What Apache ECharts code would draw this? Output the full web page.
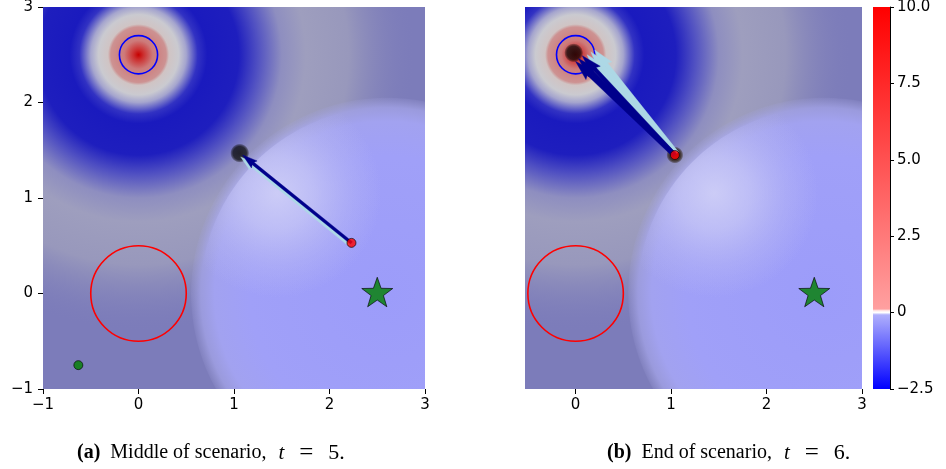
<!DOCTYPE html>
<html><head><meta charset="utf-8">
<script src="https://cdn.jsdelivr.net/npm/echarts@6/dist/echarts.min.js"></script>
<style>html,body{margin:0;padding:0;background:#fff}#c{width:946px;height:469px}</style>
</head><body><div id="c"></div>
<script>
// ---------------- data ----------------
const xTicksA = [-1, 0, 1, 2, 3];
const yTicks = [-1, 0, 1, 2, 3];
const xTicksB = [0, 1, 2, 3];
const xRangeB = [-0.53, 3];
const cbTicks = [-2.5, 0, 2.5, 5, 7.5, 10];
const cbBars = [10, -2.5];            // positive part and negative part of the colour bar

const obstacle = [0, 2.5];
const obstacleRadius = 0.2;
const avoidZone = [0, 0];
const avoidRadius = 0.5;
const goal = [2.5, 0];
const goalRegion = [2.6, 0.0];
const goalRegionRadius = 2.05;
const lightSpot = [1.45, 1.05];
const lightSpotRadius = 1.1;
const obstacleFieldRadius = 2.9;

const startA = [-0.63, -0.75];
const robotA = [2.23, 0.53];
const particlesA = [1.06, 1.47];
const robotB = [1.04, 1.45];
const particlesB = [-0.02, 2.52];

const arrowsLightA = [[2.21, 0.51, 1.07, 1.43]];
const arrowsDarkA = [[2.23, 0.53, 1.09, 1.45]];
const arrowsLightB = [[1.05, 1.46, 0.12, 2.50], [1.05, 1.46, 0.16, 2.53], [1.06, 1.47, 0.20, 2.55]];
const arrowsDarkB = [[1.03, 1.45, 0.00, 2.43], [1.04, 1.45, 0.03, 2.46], [1.04, 1.45, 0.07, 2.49]];

const captionA = ['(a)', 'Middle of scenario,', 't', '=', '5.'];
const captionB = ['(b)', 'End of scenario,', 't', '=', '6.'];

// ---------------- styling helpers ----------------
const FONT = 'DejaVu Sans';
const labelStyle = { color: '#000', fontFamily: FONT, fontSize: 15 };
const fmtMinus = v => (v < 0 ? '\u2212' : '') + Math.abs(v);

// obstacle field radial profile: [radius in data units, colour]
const obstStops = [
  [0.00, 'rgb(198,0,0)'], [0.05, 'rgb(204,45,45)'], [0.15, 'rgb(205,122,122)'],
  [0.29, 'rgb(205,146,146)'], [0.32, 'rgb(208,196,196)'], [0.42, 'rgb(202,202,208)'],
  [0.50, 'rgb(165,165,206)'], [0.62, 'rgb(50,50,195)'], [0.72, 'rgb(26,26,190)'],
  [1.05, 'rgb(30,30,190)'], [1.25, 'rgb(80,80,194)'], [1.50, 'rgb(142,142,192)'],
  [1.75, 'rgb(158,158,190)'], [2.20, 'rgb(152,152,188)'], [2.90, 'rgba(124,124,186,0)']
];

function obstacleFieldItem(params, api) {
  const c = api.coord([api.value(0), api.value(1)]);
  const R = api.size([obstacleFieldRadius, 0])[0];
  return {
    type: 'circle', shape: { cx: c[0], cy: c[1], r: R },
    style: { fill: { type: 'radial', x: 0.5, y: 0.5, r: 0.5,
      colorStops: obstStops.map(s => ({ offset: s[0] / obstacleFieldRadius, color: s[1] })) } }
  };
}

function discIntersection(c1, r1, c2, r2, n) {
  const pts = [];
  for (let i = 0; i < n; i++) {
    const a = 2 * Math.PI * i / n;
    const p = [c1[0] + r1 * Math.cos(a), c1[1] + r1 * Math.sin(a)];
    if (Math.hypot(p[0] - c2[0], p[1] - c2[1]) <= r2) pts.push(p);
    const q = [c2[0] + r2 * Math.cos(a), c2[1] + r2 * Math.sin(a)];
    if (Math.hypot(q[0] - c1[0], q[1] - c1[1]) <= r1) pts.push(q);
  }
  if (!pts.length) return pts;
  let mx = 0, my = 0; pts.forEach(p => { mx += p[0]; my += p[1]; });
  mx /= pts.length; my /= pts.length;
  pts.sort((a, b) => Math.atan2(a[1] - my, a[0] - mx) - Math.atan2(b[1] - my, b[0] - mx));
  return pts;
}

function goalFieldItem(params, api) {
  const c = api.coord([api.value(0), api.value(1)]);
  const r = api.size([goalRegionRadius, 0])[0];
  const b = api.coord(lightSpot);
  const br = api.size([lightSpotRadius, 0])[0];
  const poly = discIntersection(c, r * 0.95, b, br, 240);
  return {
    type: 'group', children: [
      { type: 'circle', shape: { cx: c[0], cy: c[1], r: r },
        style: { fill: { type: 'radial', x: 0.5, y: 0.5, r: 0.5, colorStops: [
          { offset: 0, color: 'rgba(156,156,250,1)' }, { offset: 0.7, color: 'rgba(160,160,248,1)' },
          { offset: 0.88, color: 'rgba(162,162,240,1)' }, { offset: 0.95, color: 'rgba(162,162,230,0.8)' },
          { offset: 1, color: 'rgba(162,162,222,0.15)' } ] } } },
      { type: 'polygon', shape: { points: poly },
        style: { fill: { type: 'radial', x: b[0], y: b[1], r: br, global: true, colorStops: [
          { offset: 0, color: 'rgba(206,206,247,0.9)' }, { offset: 0.35, color: 'rgba(198,198,247,0.62)' },
          { offset: 0.7, color: 'rgba(180,180,246,0.28)' }, { offset: 1, color: 'rgba(170,170,246,0)' } ] },
          shadowBlur: 8, shadowColor: 'rgba(195,195,240,0.7)' } }
    ]
  };
}

function ringItem(radius, color) {
  return function (params, api) {
    const c = api.coord([api.value(0), api.value(1)]);
    const r = api.size([radius, 0])[0];
    return { type: 'circle', shape: { cx: c[0], cy: c[1], r: r },
      style: { fill: 'none', stroke: color, lineWidth: 1.6 } };
  };
}

function arrowItem(w, color) {
  return function (params, api) {
    const p0 = api.coord([api.value(0), api.value(1)]);
    const p1 = api.coord([api.value(2), api.value(3)]);
    const dx = p1[0] - p0[0], dy = p1[1] - p0[1], L = Math.hypot(dx, dy);
    const ux = dx / L, uy = dy / L, nx = -uy, ny = ux;
    const hl = 5 * w, hal = 4.5 * w, hw = 1.5 * w, sw = w / 2;
    const pb = [p1[0] - ux * hal, p1[1] - uy * hal];
    const ph = [p1[0] - ux * hl, p1[1] - uy * hl];
    const pts = [
      [p0[0] + nx * sw, p0[1] + ny * sw], [pb[0] + nx * sw, pb[1] + ny * sw],
      [ph[0] + nx * hw, ph[1] + ny * hw], p1,
      [ph[0] - nx * hw, ph[1] - ny * hw], [pb[0] - nx * sw, pb[1] - ny * sw],
      [p0[0] - nx * sw, p0[1] - ny * sw]
    ];
    return { type: 'polygon', shape: { points: pts }, style: { fill: color, stroke: color, lineWidth: 0.4 } };
  };
}

function starPath() {
  let s = '';
  for (let i = 0; i < 10; i++) {
    const R = i % 2 ? 0.4 : 1, a = -Math.PI / 2 + i * Math.PI / 5;
    s += (i ? 'L' : 'M') + (R * Math.cos(a)).toFixed(4) + ' ' + (R * Math.sin(a)).toFixed(4) + ' ';
  }
  return 'path://' + s + 'Z';
}

const cloud = (rgb) => ({ type: 'radial', x: 0.5, y: 0.5, r: 0.5, colorStops: [
  { offset: 0, color: 'rgba(' + rgb + ',1)' }, { offset: 0.7, color: 'rgba(' + rgb + ',0.92)' },
  { offset: 0.88, color: 'rgba(' + rgb + ',0.5)' }, { offset: 1, color: 'rgba(' + rgb + ',0)' } ] });

function panelSeries(g, robot, particles, arrowsLight, arrowsDark, lightW, darkW, robotCloud) {
  const ax = { xAxisIndex: g, yAxisIndex: g };
  const s = [
    Object.assign({ type: 'custom', name: 'obstacleField', clip: true, z: 1, renderItem: obstacleFieldItem, data: [obstacle] }, ax),
    Object.assign({ type: 'custom', name: 'goalField', clip: true, z: 1, renderItem: goalFieldItem, data: [goalRegion] }, ax),
    Object.assign({ type: 'custom', name: 'avoid', clip: true, z: 2, renderItem: ringItem(avoidRadius, '#ff0000'), data: [avoidZone] }, ax),
    Object.assign({ type: 'custom', name: 'obstacle', clip: true, z: 2, renderItem: ringItem(obstacleRadius, '#0000ff'), data: [obstacle] }, ax),
    Object.assign({ type: 'scatter', name: 'particles', z: 3, symbol: 'circle', symbolSize: 19,
      itemStyle: { color: cloud('8,8,8') }, data: [particles] }, ax)
  ];
  if (robotCloud) s.push(Object.assign({ type: 'scatter', name: 'robotParticles', z: 3, symbolSize: 17,
      itemStyle: { color: cloud('40,25,5') }, data: [robot] }, ax));
  s.push(
    Object.assign({ type: 'custom', name: 'arrowsLight', clip: true, z: 4, renderItem: arrowItem(lightW, '#add8e6'),
      encode: { x: [0, 2], y: [1, 3] }, data: arrowsLight }, ax),
    Object.assign({ type: 'custom', name: 'arrowsDark', clip: true, z: 4, renderItem: arrowItem(darkW, '#00008b'),
      encode: { x: [0, 2], y: [1, 3] }, data: arrowsDark }, ax),
    Object.assign({ type: 'scatter', name: 'start', z: 5, symbolSize: 9,
      itemStyle: { color: '#008000', borderColor: '#000', borderWidth: 0.8 }, data: [startA] }, ax),
    Object.assign({ type: 'scatter', name: 'robot', z: 5, symbolSize: 9,
      itemStyle: { color: '#ff0000', borderColor: '#000', borderWidth: 0.8 }, data: [robot] }, ax),
    Object.assign({ type: 'scatter', name: 'goal', z: 5, symbol: starPath(), symbolSize: [31, 29.5], symbolOffset: [0, -1.5],
      itemStyle: { color: '#008000', borderColor: '#000', borderWidth: 0.8 }, data: [goal] }, ax)
  );
  return s;
}

const bg = 'rgb(124,124,186)';
const tick = { show: true, length: 5, inside: false, lineStyle: { color: '#000', width: 1 } };
const noLine = { show: false, onZero: false };

function caption(x, parts) {
  const serif = 'Liberation Serif';
  return { type: 'text', x: x, y: 453, style: {
    text: '{b|' + parts[0] + '}{s1|}{n|' + parts[1] + '}{s2|}{i|' + parts[2] + '}{s3|}{e|' + parts[3] + '}{s4|}{m|' + parts[4] + '}',
    textAlign: 'left', textVerticalAlign: 'middle', fill: '#000',
    font: '20px "Liberation Serif"',
    rich: {
      b: { fontWeight: 'bold', fontFamily: serif, fontSize: 20 },
      n: { fontFamily: serif, fontSize: 20 },
      i: { fontStyle: 'italic', fontFamily: serif, fontSize: 21 },
      e: { fontFamily: serif, fontSize: 25, width: 22, align: 'center' },
      m: { fontFamily: serif, fontSize: 22 },
      s1: { width: 10 }, s2: { width: 12 }, s3: { width: 11 }, s4: { width: 11 }
    } } };
}

const option = {
  animation: false,
  grid: [
    { left: 43, top: 7, width: 382, height: 382, show: true, backgroundColor: bg, borderWidth: 0, outerBoundsMode: 'none' },
    { left: 525, top: 7, width: 337, height: 382, show: true, backgroundColor: bg, borderWidth: 0, outerBoundsMode: 'none' },
    { left: 873, top: 7, width: 17, height: 382, borderWidth: 0, outerBoundsMode: 'none' }
  ],
  xAxis: [
    { gridIndex: 0, type: 'value', min: xTicksA[0], max: xTicksA[xTicksA.length - 1], interval: xTicksA[1] - xTicksA[0],
      axisLine: noLine, axisTick: tick, splitLine: { show: false },
      axisLabel: Object.assign({ margin: 9, formatter: fmtMinus }, labelStyle) },
    { gridIndex: 1, type: 'value', min: xRangeB[0], max: xRangeB[1],
      axisLine: noLine, axisTick: Object.assign({ customValues: xTicksB }, tick), splitLine: { show: false },
      axisLabel: Object.assign({ margin: 9, customValues: xTicksB, formatter: fmtMinus }, labelStyle) },
    { gridIndex: 2, type: 'category', data: ['cb'], show: false }
  ],
  yAxis: [
    { gridIndex: 0, type: 'value', min: yTicks[0], max: yTicks[yTicks.length - 1], interval: yTicks[1] - yTicks[0],
      axisLine: noLine, axisTick: tick, splitLine: { show: false },
      axisLabel: Object.assign({ margin: 10, formatter: fmtMinus }, labelStyle) },
    { gridIndex: 1, type: 'value', min: yTicks[0], max: yTicks[yTicks.length - 1],
      axisLine: noLine, axisTick: { show: false }, axisLabel: { show: false }, splitLine: { show: false } },
    { gridIndex: 2, type: 'value', position: 'right', min: cbTicks[0], max: cbTicks[cbTicks.length - 1],
      interval: cbTicks[1] - cbTicks[0],
      axisLine: { show: true, onZero: false, lineStyle: { color: '#000', width: 1 } },
      axisTick: { show: true, length: 4, lineStyle: { color: '#000' } }, splitLine: { show: false },
      axisLabel: Object.assign({ margin: 7,
        formatter: v => v === 0 ? '0' : (v < 0 ? '\u2212' : '') + Math.abs(v).toFixed(1) }, labelStyle) }
  ],
  series: [].concat(
    panelSeries(0, robotA, particlesA, arrowsLightA, arrowsDarkA, 3, 3, false),
    panelSeries(1, robotB, particlesB, arrowsLightB, arrowsDarkB, 4, 4, true),
    [
      { type: 'bar', xAxisIndex: 2, yAxisIndex: 2, barWidth: '100%', barGap: '-100%', data: [cbBars[0]],
        itemStyle: { borderWidth: 0, color: { type: 'linear', x: 0, y: 0, x2: 0, y2: 1, colorStops: [
          { offset: 0, color: 'rgb(255,0,0)' }, { offset: 0.988, color: 'rgb(255,160,160)' },
          { offset: 0.994, color: 'rgb(255,236,236)' }, { offset: 1, color: 'rgb(255,255,255)' } ] } } },
      { type: 'bar', xAxisIndex: 2, yAxisIndex: 2, barWidth: '100%', barGap: '-100%', data: [cbBars[1]],
        itemStyle: { borderWidth: 0, color: { type: 'linear', x: 0, y: 0, x2: 0, y2: 1, colorStops: [
          { offset: 0, color: 'rgb(255,255,255)' }, { offset: 0.03, color: 'rgb(175,175,252)' },
          { offset: 1, color: 'rgb(0,0,255)' } ] } } }
    ]
  ),
  graphic: [caption(77, captionA), caption(607, captionB)]
};

const chart = echarts.init(document.getElementById('c'), null, { renderer: 'canvas' });
chart.setOption(option);
</script></body></html>
